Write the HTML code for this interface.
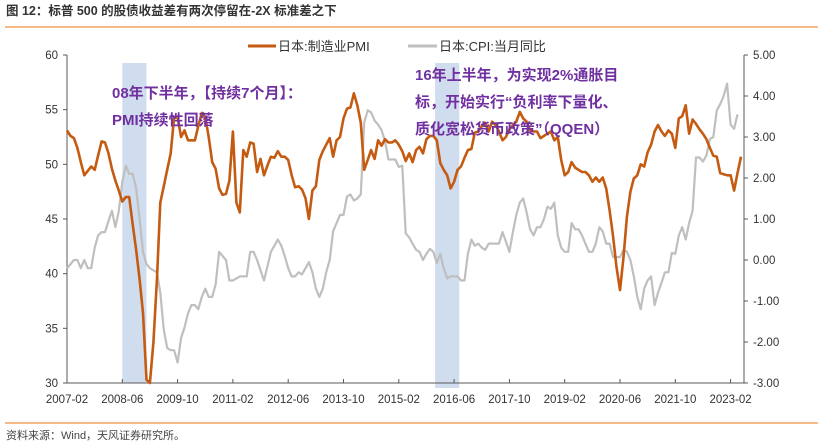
<!DOCTYPE html>
<html><head><meta charset="utf-8">
<style>
body{margin:0;background:#fff;}
svg{display:block;font-family:"Liberation Sans","Noto Sans CJK SC",sans-serif;}
</style></head>
<body>
<svg id="chart" width="828" height="444" viewBox="0 0 828 444" xmlns="http://www.w3.org/2000/svg">
<text x="6" y="15" font-size="12.5" font-weight="bold" fill="#333">图 12：标普 500 的股债收益差有两次停留在-2X 标准差之下</text>
<line x1="5" y1="27" x2="818" y2="27" stroke="#F4A460" stroke-width="1.5"/>
<g id="bands"></g>
<g id="axes"></g>
<g id="series"></g>
<g>
<line x1="248" y1="46" x2="276" y2="46" stroke="#C55A11" stroke-width="3"/>
<text x="278" y="51" font-size="13" fill="#333">日本:制造业PMI</text>
<line x1="408" y1="46" x2="437" y2="46" stroke="#BFBFBF" stroke-width="3"/>
<text x="439" y="51" font-size="13" fill="#333">日本:CPI:当月同比</text>
</g>
<g font-size="15" font-weight="bold" fill="#7030A0">
<text x="112" y="98">08年下半年，【持续7个月】：</text>
<text x="112" y="125">PMI持续性回落</text>
<text x="415" y="80">16年上半年，为实现2%通胀目</text>
<text x="415" y="107">标，开始实行“负利率下量化、</text>
<text x="415" y="134">质化宽松货币政策”（QQEN）</text>
</g>
<line x1="5" y1="423" x2="818" y2="423" stroke="#F4A460" stroke-width="1.5"/>
<text x="6" y="439" font-size="11" fill="#444">资料来源：Wind，天风证券研究所。</text>
</svg>
<script>
const xLabels = ["2007-02","2008-06","2009-10","2011-02","2012-06","2013-10","2015-02","2016-06","2017-10","2019-02","2020-06","2021-10","2023-02"];
const leftTicks = [30,35,40,45,50,55,60];
const rightTicks = ["-3.00","-2.00","-1.00","0.00","1.00","2.00","3.00","4.00","5.00"];
const bandStarts = [16,106.5];
const bandEnds = [23,113.5];
const pmi = [53.1,52.6,52.4,51.5,50.2,49.0,49.4,49.8,49.5,50.8,52.1,52.0,51.0,49.6,48.5,47.6,46.6,47.0,47.0,44.5,42.2,39.5,36.4,30.3,30.0,33.7,39.4,46.5,48.0,49.5,51.0,54.3,54.3,52.5,53.1,52.2,52.2,52.2,53.5,54.7,54.3,52.5,50.2,49.6,47.8,47.2,47.3,48.5,53.0,46.5,45.6,51.3,50.7,52.0,51.9,49.3,50.5,49.0,49.9,50.7,50.6,51.2,50.7,50.7,50.4,49.0,47.9,48.0,47.7,46.9,45.0,47.6,48.0,50.4,51.2,51.8,52.4,50.7,52.2,52.5,54.2,55.1,55.2,56.5,55.4,53.8,49.5,50.4,51.3,50.5,52.2,51.7,52.3,52.0,52.0,52.2,51.8,51.2,50.3,51.0,50.2,51.3,51.6,51.0,52.3,52.6,52.6,52.2,50.1,49.5,49.0,47.8,48.4,49.5,49.8,50.6,51.3,51.4,52.9,53.0,53.5,53.8,53.0,53.9,53.6,53.0,52.2,52.5,53.2,53.6,53.9,54.8,54.2,53.9,53.1,53.0,53.0,52.4,52.6,52.8,53.0,52.2,52.5,50.4,49.0,49.3,50.2,49.7,49.5,49.3,49.3,49.0,48.4,48.8,48.4,48.8,47.8,45.8,43.4,40.6,38.5,41.5,45.2,47.5,48.7,49.0,50.0,49.8,51.1,51.8,53.0,53.6,53.0,52.6,53.1,52.8,51.5,54.2,54.4,55.4,52.8,54.1,53.7,53.2,52.8,52.3,51.5,50.8,50.7,49.2,49.1,49.0,49.0,47.6,49.2,50.7];
const cpi = [-0.2,-0.1,0.0,0.0,-0.2,0.0,-0.2,-0.2,0.3,0.6,0.68,0.68,0.95,1.2,0.8,1.2,1.9,2.3,2.1,2.1,1.75,1.0,0.2,-0.1,-0.2,-0.25,-0.3,-0.8,-1.7,-2.15,-2.2,-2.2,-2.5,-1.9,-1.65,-1.3,-1.1,-1.1,-1.2,-0.9,-0.7,-0.9,-0.9,-0.6,0.2,0.1,0.0,-0.5,-0.5,-0.45,-0.4,-0.4,-0.4,0.2,0.2,0.0,-0.25,-0.5,-0.15,0.2,0.35,0.5,0.35,0.1,-0.2,-0.4,-0.4,-0.3,-0.35,-0.2,-0.05,-0.3,-0.7,-0.9,-0.7,-0.3,0.0,0.7,0.9,1.1,1.1,1.55,1.6,1.45,1.5,1.6,3.35,3.65,3.6,3.4,3.3,3.17,2.9,2.45,2.45,2.45,2.27,2.3,0.65,0.55,0.4,0.25,0.2,0.0,0.15,0.27,0.2,-0.08,0.15,-0.2,-0.45,-0.4,-0.4,-0.4,-0.5,-0.5,0.15,0.5,0.35,0.4,0.3,0.25,0.4,0.4,0.4,0.4,0.68,0.45,0.2,0.68,1.1,1.4,1.5,1.15,0.75,0.6,0.8,0.8,1.0,1.3,1.25,1.4,0.6,0.3,0.2,0.2,0.9,0.75,0.75,0.6,0.4,0.2,0.2,0.4,0.8,0.7,0.4,0.4,0.07,0.07,0.07,0.25,0.2,0.0,-0.4,-0.9,-1.2,-0.7,-0.5,-0.4,-1.1,-0.8,-0.55,-0.3,-0.3,0.17,0.15,0.6,0.8,0.5,0.9,1.2,2.5,2.5,2.4,2.55,2.95,3.0,3.65,3.8,4.0,4.3,3.3,3.2,3.55];

const NS = "http://www.w3.org/2000/svg";
const X0 = 67, X1 = 744, Y0 = 55, Y1 = 383, PXM = 55.3/16;
const xOf = m => X0 + m*PXM;
const yL = v => Y1 - (v-30)/30*(Y1-Y0);
const yR = v => Y1 - (v+3)/8*(Y1-Y0);
function mk(tag, attrs, parent){const e=document.createElementNS(NS,tag);for(const k in attrs)e.setAttribute(k,attrs[k]);parent.appendChild(e);return e;}

const bands = document.getElementById('bands');
bandStarts.forEach((s,i)=>{
  const r = mk('rect',{x:xOf(s),y:63,width:xOf(bandEnds[i])-xOf(s),height:Y1-63+(i?5:0),fill:'#D0DDEE'},bands);
  
  
});

const axes = document.getElementById('axes');
const st = {stroke:'#595959','stroke-width':1};
let a = mk('line',Object.assign({x1:X0,y1:Y0,x2:X0,y2:Y1},st),axes);


a = mk('line',Object.assign({x1:X1,y1:Y0,x2:X1,y2:Y1},st),axes);


a = mk('line',Object.assign({x1:X0,y1:Y1,x2:X1,y2:Y1},st),axes);


leftTicks.forEach(v=>{
  const y=yL(v);
  mk('line',Object.assign({x1:X0-4,y1:y,x2:X0,y2:y},st),axes);
  const t=mk('text',{x:X0-9,y:y+4,'font-size':11.5,'text-anchor':'end',fill:'#333'},axes);
  t.textContent=v;
  
  
});
rightTicks.forEach(s=>{
  const y=yR(parseFloat(s));
  mk('line',Object.assign({x1:X1,y1:y,x2:X1+4,y2:y},st),axes);
  const t=mk('text',{x:X1+9,y:y+4,'font-size':11.5,fill:'#333'},axes);
  t.textContent=s;
  
  
});
xLabels.forEach((s,i)=>{
  const x=xOf(i*16);
  if(i>0) mk('line',Object.assign({x1:x,y1:Y1-4,x2:x,y2:Y1},st),axes);
  const t=mk('text',{x:x,y:403,'font-size':11.5,'text-anchor':'middle',fill:'#333'},axes);
  t.textContent=s;
  
  
});

const series = document.getElementById('series');
const cp = mk('polyline',{points:cpi.map((v,i)=>xOf(i).toFixed(1)+','+yR(v).toFixed(1)).join(' '),fill:'none',stroke:'#BFBFBF','stroke-width':2.2,'stroke-linejoin':'round'},series);


const pp = mk('polyline',{points:pmi.map((v,i)=>xOf(i).toFixed(1)+','+yL(v).toFixed(1)).join(' '),fill:'none',stroke:'#C55A11','stroke-width':2.6,'stroke-linejoin':'round'},series);


</script>
</body></html>
